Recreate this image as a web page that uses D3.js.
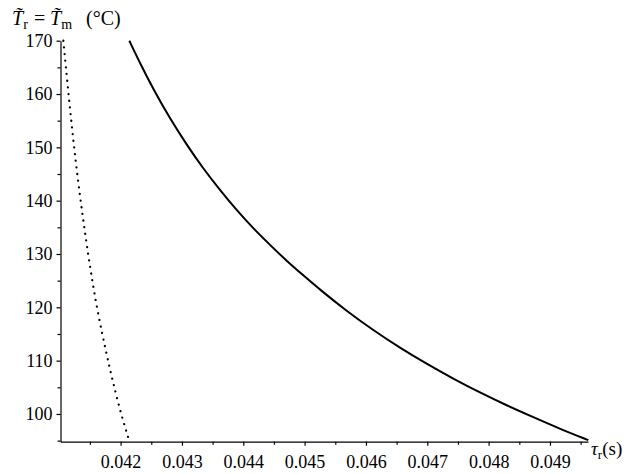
<!DOCTYPE html>
<html>
<head>
<meta charset="utf-8">
<script src="https://cdn.jsdelivr.net/npm/d3@7"></script>
<style>
  body { margin: 0; background: #fff; }
  svg text { font-family: "Liberation Serif", "Times New Roman", Times, Tinos, "DejaVu Serif", "Noto Serif", FreeSerif, serif; fill: #000; }
</style>
</head>
<body>
<div id="chart"></div>
<script>
// values
const solidTau = [0.042142, 0.042316, 0.042533, 0.042805, 0.043077, 0.043348, 0.043620,
                  0.043893, 0.044163, 0.044436, 0.044708, 0.044978, 0.045251, 0.045686,
                  0.046120, 0.046555, 0.046990, 0.047424, 0.047859, 0.048295, 0.048728,
                  0.049164, 0.049625]
const solidTemp = [170.0, 165.8, 160.9, 155.4, 150.5, 146.0, 142.0,
                   138.2, 134.8, 131.7, 128.7, 126.0, 123.3, 119.3,
                   115.7, 112.4, 109.4, 106.6, 104.0, 101.6, 99.4,
                   97.2, 95.1]

const dottedTau = [0.041066, 0.041150, 0.041240, 0.041346, 0.041468, 0.041607, 0.041794,
                   0.041876, 0.042006, 0.042137]
const dottedTemp = [170, 160, 150, 140, 130, 120, 110, 106, 100, 95.1]

const xMajor = [0.042, 0.043, 0.044, 0.045, 0.046, 0.047, 0.048, 0.049]
const xMinor = [0.0415, 0.0425, 0.0435, 0.0445, 0.0455, 0.0465, 0.0475, 0.0485, 0.0495]
const yMajor = [100, 110, 120, 130, 140, 150, 160, 170]
const yMinor = [95, 105, 115, 125, 135, 145, 155, 165]

const width = 630, height = 474
const margins = {top: 40.7, right: 42, bottom: 32.3, left: 60.5}
const serif = '"Liberation Serif", "Times New Roman", Times, Tinos, "DejaVu Serif", serif'

const svg = d3.select('#chart').append('svg')
    .attr('width', width)
    .attr('height', height)

const x = d3.scaleLinear()
    .domain([0.04102, 0.04962])
    .range([margins.left, width - margins.right])

const y = d3.scaleLinear()
    .domain([94.8, 170])
    .range([height - margins.bottom, margins.top])

// axes
svg.append('g')
    .attr('transform', 'translate(0,' + (height - margins.bottom) + ')')
    .call(d3.axisBottom(x).tickValues(xMajor).tickSize(4).tickSizeOuter(0)
        .tickPadding(10).tickFormat(d3.format('.3f')))
svg.append('g')
    .attr('transform', 'translate(0,' + (height - margins.bottom) + ')')
    .call(d3.axisBottom(x).tickValues(xMinor).tickSize(3).tickSizeOuter(0).tickFormat(''))
    .select('.domain').remove()

svg.append('g')
    .attr('transform', 'translate(' + margins.left + ',0)')
    .call(d3.axisLeft(y).tickValues(yMajor).tickSize(4).tickSizeOuter(0).tickPadding(4))
svg.append('g')
    .attr('transform', 'translate(' + margins.left + ',0)')
    .call(d3.axisLeft(y).tickValues(yMinor).tickSize(3).tickSizeOuter(0).tickFormat(''))
    .select('.domain').remove()

svg.selectAll('g').attr('font-family', serif)
svg.selectAll('.tick text')
    .attr('font-family', serif)
    .attr('font-size', 18)
svg.selectAll('.domain, .tick line').attr('stroke', '#000').attr('stroke-width', 1.2)

// curves
const line = d3.line()
    .x(d => x(d[0]))
    .y(d => y(d[1]))
    .curve(d3.curveBasis)

svg.append('path')
    .datum(d3.zip(solidTau, solidTemp))
    .attr('d', line)
    .attr('fill', 'none')
    .attr('stroke', '#000')
    .attr('stroke-width', 2)

svg.append('path')
    .datum(d3.zip(dottedTau, dottedTemp))
    .attr('d', line)
    .attr('fill', 'none')
    .attr('stroke', '#000')
    .attr('stroke-width', 2.2)
    .attr('stroke-linecap', 'round')
    .attr('stroke-dasharray', '0.1,6.6')

// axis titles
const yTitle = svg.append('text')
    .attr('y', 25)
    .attr('font-family', serif)
    .attr('font-size', 20)
yTitle.append('tspan').attr('x', 12).attr('font-style', 'italic').text('T\u0303')
yTitle.append('tspan').attr('font-size', 14).attr('dy', 4).text('r')
yTitle.append('tspan').attr('x', 34).attr('dy', -4).text('=')
yTitle.append('tspan').attr('x', 50).attr('font-style', 'italic').text('T\u0303')
yTitle.append('tspan').attr('font-size', 14).attr('dy', 4).text('m')
yTitle.append('tspan').attr('x', 86).attr('dy', -4).text('(°C)')

const xTitle = svg.append('text')
    .attr('x', 591)
    .attr('y', 455)
    .attr('font-family', serif)
    .attr('font-size', 19)
xTitle.append('tspan').attr('font-style', 'italic').text('τ')
xTitle.append('tspan').attr('font-size', 13).attr('dy', 4).text('r')
xTitle.append('tspan').attr('dy', -4).text('(s)')
</script>
</body>
</html>
